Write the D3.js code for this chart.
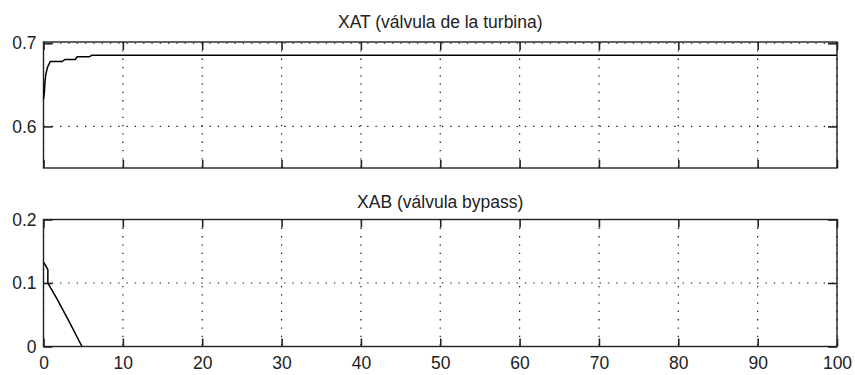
<!DOCTYPE html>
<html>
<head>
<meta charset="utf-8">
<script src="https://cdn.jsdelivr.net/npm/d3@7"></script>
<style>
  html, body { margin: 0; padding: 0; background: #fff; }
  svg { display: block; }
  text { font-family: "Liberation Sans", Arial, sans-serif; fill: #222; }
</style>
</head>
<body>
<svg id="chart" width="855" height="375"></svg>
<script>
// Shared time axis (seconds)
const timeTicks = [0, 10, 20, 30, 40, 50, 60, 70, 80, 90, 100];

// XAT: turbine valve opening
const xatTitle = "XAT (válvula de la turbina)";
const xatTime  = [0, 0.1, 0.2, 0.3, 0.5, 0.85, 2.35, 2.7, 4.0, 4.25, 5.75, 6.1, 100];
const xatValue = [0.633, 0.640, 0.655, 0.663, 0.671, 0.678, 0.678, 0.6806, 0.6806, 0.6837, 0.6837, 0.6855, 0.6855];
const xatTicks = [0.6, 0.7];

// XAB: bypass valve opening
const xabTitle = "XAB (válvula bypass)";
const xabTime  = [0, 0.1, 0.55, 0.55, 1.7, 3.2, 4.85];
const xabValue = [0.131, 0.131, 0.121, 0.100, 0.075, 0.040, 0];
const xabTicks = [0, 0.1, 0.2];

const FONT_SIZE = 17.5;

const svg = d3.select("#chart");
svg.append("rect").attr("width", 855).attr("height", 375).attr("fill", "#fff");

const x = d3.scaleLinear().domain([0, 100]).range([43.5, 837]);

function panel(cfg) {
  const g = svg.append("g");
  const y = d3.scaleLinear().domain(cfg.yDomain).range([cfg.bottom, cfg.top]);

  // dotted grid
  const grid = g.append("g")
    .attr("stroke", "#111")
    .attr("stroke-width", 1.2)
    .attr("stroke-dasharray", "1.3,7")
    .attr("fill", "none");
  grid.selectAll("line.vx").data(timeTicks).join("line")
    .attr("x1", d => x(d)).attr("x2", d => x(d))
    .attr("y1", cfg.top).attr("y2", cfg.bottom);
  grid.selectAll("line.hy").data(cfg.yTicks).join("line")
    .attr("x1", x.range()[0]).attr("x2", x.range()[1])
    .attr("y1", d => y(d)).attr("y2", d => y(d));

  // frame
  g.append("rect")
    .attr("x", x.range()[0]).attr("y", cfg.top)
    .attr("width", x.range()[1] - x.range()[0])
    .attr("height", cfg.bottom - cfg.top)
    .attr("fill", "none").attr("stroke", "#222").attr("stroke-width", 1.4);

  // inward ticks on all four sides
  const axL = d3.axisLeft(y).tickValues(cfg.yTicks).tickSizeInner(-9).tickSizeOuter(0).tickPadding(7)
    .tickFormat(d3.format("~g"));
  const axR = d3.axisRight(y).tickValues(cfg.yTicks).tickSizeInner(-9).tickSizeOuter(0).tickFormat("");
  const axB = d3.axisBottom(x).tickValues(timeTicks).tickSizeInner(-8).tickSizeOuter(0).tickPadding(10)
    .tickFormat(cfg.showX ? d3.format("d") : "");
  const axT = d3.axisTop(x).tickValues(timeTicks).tickSizeInner(-8).tickSizeOuter(0).tickFormat("");

  const styleAxis = sel => {
    sel.select(".domain").remove();
    sel.selectAll(".tick line").attr("stroke", "#222").attr("stroke-width", 1.6);
    sel.selectAll(".tick text").attr("font-size", FONT_SIZE).attr("fill", "#222")
      .attr("font-family", "'Liberation Sans', Arial, sans-serif");
  };
  g.append("g").attr("transform", `translate(${x.range()[0]},0)`).call(axL).call(styleAxis);
  g.append("g").attr("transform", `translate(${x.range()[1]},0)`).call(axR).call(styleAxis);
  g.append("g").attr("transform", `translate(0,${cfg.bottom})`).call(axB).call(styleAxis);
  g.append("g").attr("transform", `translate(0,${cfg.top})`).call(axT).call(styleAxis);

  // signal
  const pts = cfg.t.map((t, i) => [t, cfg.v[i]]);
  g.append("path")
    .datum(pts)
    .attr("fill", "none")
    .attr("stroke", "#000")
    .attr("stroke-width", 1.5)
    .attr("stroke-linejoin", "miter")
    .attr("d", d3.line().x(d => x(d[0])).y(d => y(d[1])));

  // title
  g.append("text")
    .attr("x", (x.range()[0] + x.range()[1]) / 2)
    .attr("y", cfg.titleY)
    .attr("text-anchor", "middle")
    .attr("font-size", FONT_SIZE)
    .text(cfg.title);
}

panel({
  title: xatTitle, titleY: 28,
  top: 42, bottom: 168, yDomain: [0.55, 0.7015],
  yTicks: xatTicks, t: xatTime, v: xatValue, showX: false
});

panel({
  title: xabTitle, titleY: 208,
  top: 219.5, bottom: 346.5, yDomain: [0, 0.2],
  yTicks: xabTicks, t: xabTime, v: xabValue, showX: true
});
</script>
</body>
</html>
